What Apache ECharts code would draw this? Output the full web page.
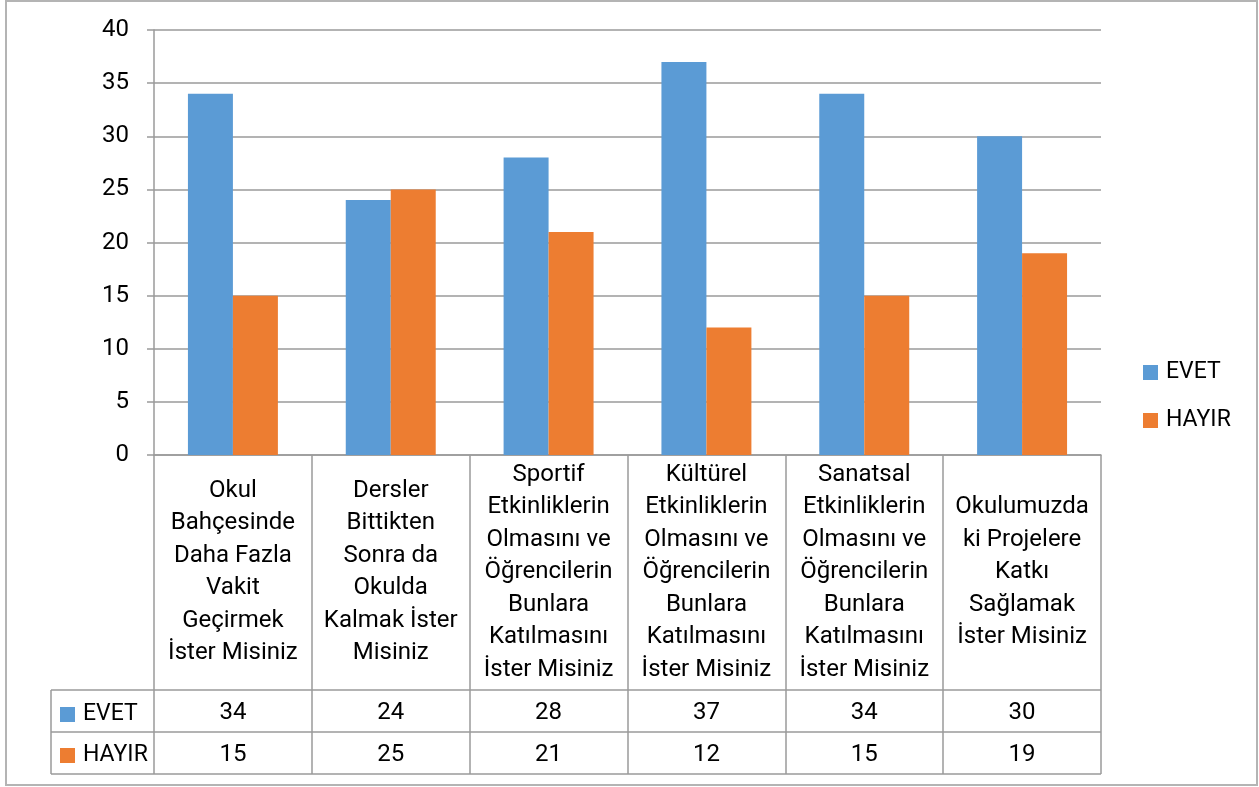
<!DOCTYPE html>
<html>
<head>
<meta charset="utf-8">
<script src="https://cdn.jsdelivr.net/npm/echarts@6/dist/echarts.min.js"></script>
<style>
  html, body { margin: 0; padding: 0; background: #fff; }
  #chart { width: 1259px; height: 787px; }
</style>
</head>
<body>
<div id="chart"></div>
<script>
const categories = [
  'Okul\nBahçesinde\nDaha Fazla\nVakit\nGeçirmek\nİster Misiniz',
  'Dersler\nBittikten\nSonra da\nOkulda\nKalmak İster\nMisiniz',
  'Sportif\nEtkinliklerin\nOlmasını ve\nÖğrencilerin\nBunlara\nKatılmasını\nİster Misiniz',
  'Kültürel\nEtkinliklerin\nOlmasını ve\nÖğrencilerin\nBunlara\nKatılmasını\nİster Misiniz',
  'Sanatsal\nEtkinliklerin\nOlmasını ve\nÖğrencilerin\nBunlara\nKatılmasını\nİster Misiniz',
  'Okulumuzda\nki Projelere\nKatkı\nSağlamak\nİster Misiniz'
]
const evet = [34, 24, 28, 37, 34, 30]
const hayir = [15, 25, 21, 12, 15, 19]

const FONT = 'Roboto'
const SIZE = 24
const LINE = '#9a9a9a'

const chart = echarts.init(document.getElementById('chart'))

// values row of the data table, drawn as an extra category axis
function tableAxis (values, margin) {
  return {
    type: 'category',
    gridIndex: 0,
    position: 'bottom',
    offset: 0,
    data: values.map(String),
    axisLine: { show: false },
    axisTick: { show: false },
    splitLine: { show: false },
    axisLabel: {
      interval: 0,
      margin: margin,
      verticalAlign: 'middle',
      fontFamily: FONT,
      fontSize: SIZE,
      color: '#000'
    }
  }
}

const legendText = { fontFamily: FONT, fontSize: 23, color: '#000', padding: [0, 0, 0, 3] }

const option = {
  animation: false,
  backgroundColor: '#fff',
  textStyle: { fontFamily: FONT },
  grid: { left: 154, right: 158, top: 30, bottom: 332 },
  legend: [
    {
      data: ['EVET', 'HAYIR'],
      orient: 'vertical',
      left: 1138,
      top: 356,
      icon: 'rect',
      itemWidth: 15,
      itemHeight: 15,
      itemGap: 25,
      selectedMode: false,
      textStyle: legendText
    },
    {
      data: ['EVET', 'HAYIR'],
      orient: 'vertical',
      left: 55,
      top: 698,
      icon: 'rect',
      itemWidth: 15,
      itemHeight: 15,
      itemGap: 18,
      selectedMode: false,
      textStyle: legendText
    }
  ],
  xAxis: [
    {
      type: 'category',
      data: categories,
      axisLine: { show: true, lineStyle: { color: LINE, width: 1.5 } },
      axisTick: { show: true, interval: 0, length: 319, lineStyle: { color: LINE, width: 1.5 } },
      axisLabel: {
        interval: 0,
        margin: 117,
        verticalAlign: 'middle',
        lineHeight: 32.5,
        fontFamily: FONT,
        fontSize: SIZE,
        color: '#000'
      }
    },
    tableAxis(evet, 258),
    tableAxis(hayir, 300)
  ],
  yAxis: {
    type: 'value',
    min: 0,
    max: 40,
    interval: 5,
    axisLine: { show: true, lineStyle: { color: LINE, width: 1.5 } },
    axisTick: { show: true, length: 7, lineStyle: { color: LINE, width: 1.5 } },
    splitLine: { show: true, lineStyle: { color: LINE, width: 1.5 } },
    axisLabel: { margin: 25, fontFamily: FONT, fontSize: SIZE, color: '#000' }
  },
  series: [
    {
      name: 'EVET',
      type: 'bar',
      xAxisIndex: 0,
      barGap: 0,
      barCategoryGap: '43%',
      itemStyle: { color: '#5B9BD5' },
      data: evet
    },
    {
      name: 'HAYIR',
      type: 'bar',
      xAxisIndex: 0,
      itemStyle: { color: '#ED7D31' },
      data: hayir
    }
  ],
  graphic: [
    { type: 'rect', shape: { x: 6, y: 1, width: 1251, height: 784 }, style: { fill: null, stroke: '#b4b4b4', lineWidth: 2 }, z: -1 },
    { type: 'line', shape: { x1: 51, y1: 690, x2: 1101, y2: 690 }, style: { stroke: LINE, lineWidth: 1.5 } },
    { type: 'line', shape: { x1: 51, y1: 732, x2: 1101, y2: 732 }, style: { stroke: LINE, lineWidth: 1.5 } },
    { type: 'line', shape: { x1: 51, y1: 774, x2: 1101, y2: 774 }, style: { stroke: LINE, lineWidth: 1.5 } },
    { type: 'line', shape: { x1: 51, y1: 690, x2: 51, y2: 774 }, style: { stroke: LINE, lineWidth: 1.5 } }
  ]
}

chart.setOption(option)
</script>
</body>
</html>
